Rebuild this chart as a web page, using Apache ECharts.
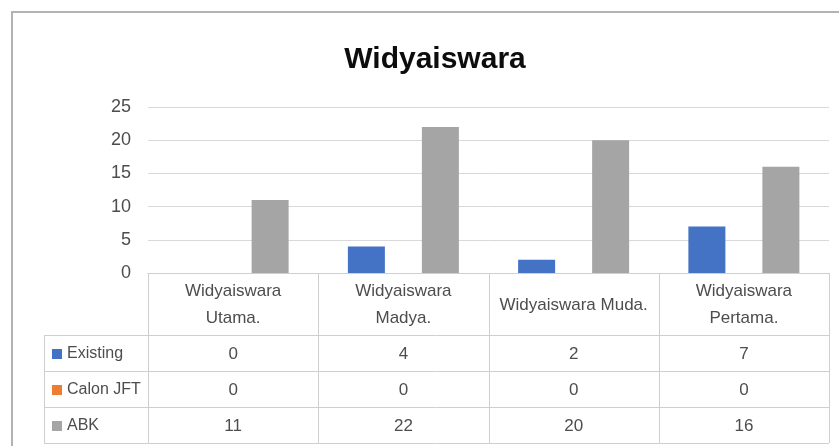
<!DOCTYPE html>
<html>
<head>
<meta charset="utf-8">
<script src="https://cdn.jsdelivr.net/npm/echarts@6/dist/echarts.min.js"></script>
<style>
  html, body { margin: 0; padding: 0; background: #fff; }
  #chart { width: 839px; height: 446px; }
</style>
</head>
<body>
<div id="chart"></div>
<script>
// data
const categories = ['Widyaiswara\nUtama.', 'Widyaiswara\nMadya.', 'Widyaiswara Muda.', 'Widyaiswara\nPertama.']
const existing = [0, 4, 2, 7]
const calonJft = [0, 0, 0, 0]
const abk = [11, 22, 20, 16]
const seriesNames = ['Existing', 'Calon JFT', 'ABK']
const seriesColors = ['#4472C4', '#ED7D31', '#A5A5A5']

const font = 'Liberation Sans'
const textColor = '#4d4d4d'
const lineColor = '#cfcfcf'

const chart = echarts.init(document.getElementById('chart'))
const seriesData = [existing, calonJft, abk]

chart.setOption({
  animation: false,
  title: {
    text: 'Widyaiswara',
    left: 430,
    top: 40,
    textAlign: 'center',
    textStyle: { fontFamily: font, fontSize: 30, fontWeight: 'bold', color: '#0d0d0d' }
  },
  grid: { left: 148, right: 10, top: 107, bottom: 173 },
  xAxis: {
    type: 'category',
    data: categories,
    axisLine: { lineStyle: { color: lineColor } },
    axisTick: { show: false },
    axisLabel: {
      interval: 0,
      margin: 32,
      verticalAlign: 'middle',
      lineHeight: 27,
      fontFamily: font,
      fontSize: 17,
      color: textColor
    }
  },
  yAxis: {
    type: 'value',
    min: 0,
    max: 25,
    interval: 5,
    axisLine: { show: false },
    axisTick: { show: false },
    splitLine: { lineStyle: { color: '#d9d9d9', width: 1 } },
    axisLabel: { margin: 17, fontFamily: font, fontSize: 18, color: textColor }
  },
  series: seriesNames.map((name, i) => ({
    name: name,
    type: 'bar',
    data: seriesData[i],
    barWidth: 37,
    barGap: '0%',
    itemStyle: { color: seriesColors[i] }
  }))
})

// data table under the axis
function buildTable () {
  const c0 = chart.convertToPixel({ xAxisIndex: 0 }, 0)
  const c1 = chart.convertToPixel({ xAxisIndex: 0 }, 1)
  const step = c1 - c0
  const xStart = c0 - step / 2
  const xEnd = xStart + step * categories.length
  const y0 = chart.convertToPixel({ yAxisIndex: 0 }, 0)
  const headerBottom = y0 + 62
  const rowH = 36
  const tableBottom = headerBottom + rowH * seriesNames.length
  const legendLeft = 44
  const els = []

  // horizontal lines
  for (let r = 0; r <= seriesNames.length; r++) {
    const y = Math.round(headerBottom + r * rowH) + 0.5
    els.push({ type: 'line', shape: { x1: legendLeft, y1: y, x2: xEnd, y2: y }, style: { stroke: lineColor, lineWidth: 1 } })
  }
  // vertical lines
  for (let k = 0; k <= categories.length; k++) {
    const x = Math.round(xStart + k * step) + 0.5
    els.push({ type: 'line', shape: { x1: x, y1: y0, x2: x, y2: tableBottom }, style: { stroke: lineColor, lineWidth: 1 } })
  }
  els.push({ type: 'line', shape: { x1: legendLeft + 0.5, y1: headerBottom, x2: legendLeft + 0.5, y2: tableBottom }, style: { stroke: lineColor, lineWidth: 1 } })

  seriesNames.forEach((name, r) => {
    const cy = headerBottom + r * rowH + rowH / 2 + 1
    els.push({ type: 'rect', shape: { x: 52, y: cy - 5, width: 10, height: 10 }, style: { fill: seriesColors[r] } })
    els.push({
      type: 'text',
      style: { x: 67, y: cy, text: name, fill: textColor, font: '16px "' + font + '"', verticalAlign: 'middle', textVerticalAlign: 'middle' }
    })
    seriesData[r].forEach((v, k) => {
      els.push({
        type: 'text',
        style: {
          x: xStart + (k + 0.5) * step,
          y: cy,
          text: String(v),
          fill: textColor,
          font: '17px "' + font + '"',
          align: 'center',
          textAlign: 'center',
          verticalAlign: 'middle',
          textVerticalAlign: 'middle'
        }
      })
    })
  })

  // outer frame of the chart
  els.push({ type: 'polyline', shape: { points: [[12, 446], [12, 12], [839, 12]] }, style: { stroke: '#b3b3b3', lineWidth: 2, fill: null } })

  chart.setOption({ graphic: els })
}
buildTable()
</script>
</body>
</html>
